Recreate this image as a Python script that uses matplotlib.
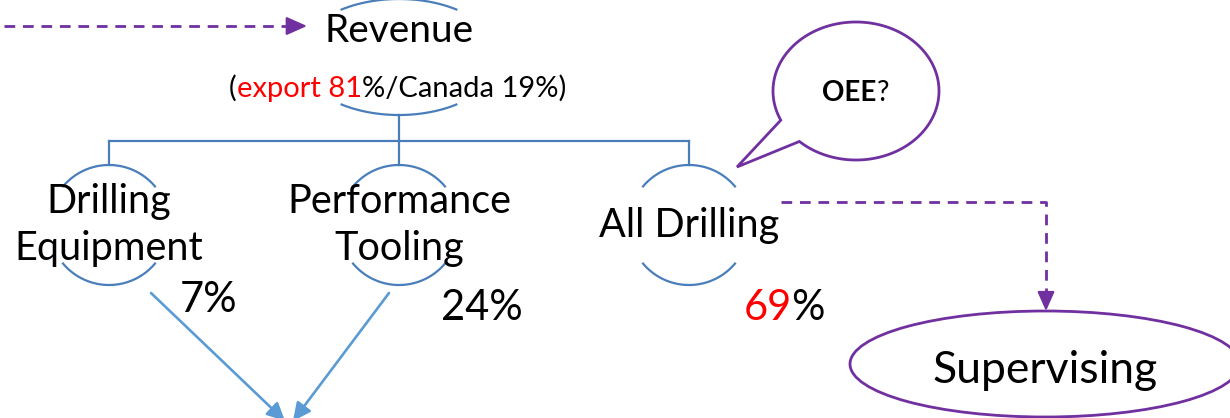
import numpy as np
import matplotlib
matplotlib.use('Agg')
import matplotlib.pyplot as plt
from matplotlib.patches import Ellipse, Polygon

# data
top_label = 'Revenue'
export_share = 81
canada_share = 19
seg_lines = [['Drilling', 'Equipment'], ['Performance', 'Tooling'], ['All Drilling']]
seg_share = [7, 24, 69]
seg_share_red = [False, False, True]
bubble_label = 'OEE'
target_label = 'Supervising'

BLUE = '#4A7EBB'
ARROW = '#5B9BD5'
PURPLE = '#7030A0'
RED = '#FF0000'

plt.rcParams['font.family'] = ['Lato', 'DejaVu Sans']

fig = plt.figure(figsize=(12.3, 4.18), dpi=100)
ax = fig.add_axes([0, 0, 1, 1])
ax.set_xlim(0, 1230)
ax.set_ylim(418, 0)
ax.axis('off')


def arc(cx, cy, a, b, t1, t2, **kw):
    t = np.radians(np.linspace(t1, t2, 80))
    ax.plot(cx + a * np.cos(t), cy + b * np.sin(t), **kw)


def chain(prev, s, dx=0, **kw):
    # put the next piece of text right after the previous one, same baseline
    return ax.annotate(s, xy=(1, 0), xycoords=prev, xytext=(dx, 0),
                       textcoords='offset points', ha='left', va='bottom', **kw)


def head(x0, y0, x1, y1, color, ms, lw=1.6, hw=0.2):
    ax.annotate('', xy=(x1, y1), xytext=(x0, y0), annotation_clip=False,
                arrowprops=dict(arrowstyle=f'-|>,head_length=0.45,head_width={hw}',
                                color=color, lw=lw, mutation_scale=ms,
                                shrinkA=0, shrinkB=0))


# revenue node
rx, ry = 399, 57
arc(rx, ry, 100, 58, 235, 305, color=BLUE, lw=1.6)
arc(rx, ry, 100, 58, 55, 125, color=BLUE, lw=1.6)
ax.text(rx, 42, top_label, ha='center', va='baseline', fontsize=28)
t = ax.text(229, 97, '(', ha='left', va='baseline', fontsize=21)
t = chain(t, f'export {export_share}', fontsize=21, color=RED)
chain(t, f'%/Canada {canada_share}%)', fontsize=21)

# dashed arrow into revenue
ax.plot([4, 293], [26, 26], color=PURPLE, lw=2, dashes=(3.85, 2.8))
head(289, 26, 307, 26, PURPLE, 28)

# hierarchy lines
node_x = [109, 399, 689]
cy, r = 225, 60
ax.plot([rx, rx], [115, 141], color=BLUE, lw=1.6)
ax.plot([node_x[0], node_x[-1]], [141, 141], color=BLUE, lw=1.6)
for x in node_x:
    ax.plot([x, x], [141, cy - r], color=BLUE, lw=1.6)
    arc(x, cy, r, r, 220, 320, color=BLUE, lw=1.6)
    arc(x, cy, r, r, 40, 140, color=BLUE, lw=1.6)

# node labels
for x, lines in zip(node_x, seg_lines):
    if len(lines) == 2:
        base = [213, 260]
    else:
        base = [237]
    for s, b in zip(lines, base):
        ax.text(x, b, s, ha='center', va='baseline', fontsize=28.5)

# shares
share_pos = [(180, 312), (441, 320), (744, 320)]
for (x, y), v, red in zip(share_pos, seg_share, seg_share_red):
    if red:
        t = ax.text(x, y, str(v), ha='left', va='baseline', fontsize=30, color=RED)
        chain(t, '%', dx=-1, fontsize=30)
    else:
        ax.text(x, y, f'{v}%', ha='left', va='baseline', fontsize=30)

# converging arrows
head(151, 293, 285, 421, ARROW, 24, lw=1.9, hw=0.22)
head(389, 293, 293, 421, ARROW, 24, lw=1.9, hw=0.22)

# speech bubble
bx, by, ba, bb = 856, 91, 83, 69
tt = np.radians(np.linspace(155, 133 + 360, 200))
pts = np.column_stack([bx + ba * np.cos(tt), by + bb * np.sin(tt)])
pts = np.vstack([pts, [737, 167]])
ax.add_patch(Polygon(pts, closed=True, fc='white', ec=PURPLE, lw=2, joinstyle='miter'))
t = ax.text(822, 101, bubble_label, ha='left', va='baseline', fontsize=20, fontweight='bold')
chain(t, '?', fontsize=20)

# dashed connector to supervising
ax.plot([781, 1046, 1046], [202, 202, 294], color=PURPLE, lw=2, dashes=(3.85, 2.8))
head(1046, 292, 1046, 311, PURPLE, 26)

ax.add_patch(Ellipse((1045, 364), 390, 106, fc='none', ec=PURPLE, lw=2))
ax.text(1045, 383, target_label, ha='center', va='baseline', fontsize=32)

fig.savefig('out.png', dpi=100)
